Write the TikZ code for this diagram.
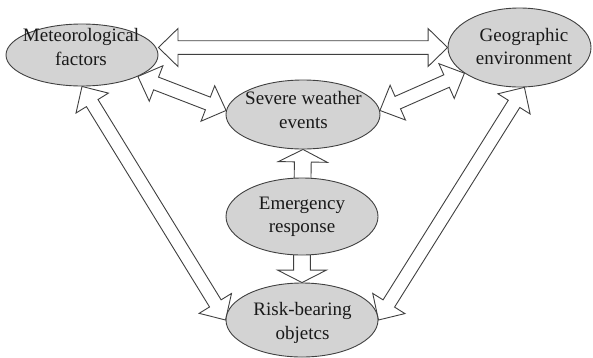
\documentclass[tikz,border=0pt]{standalone}
\usepackage{fontspec}
\setmainfont{Liberation Serif}
\usetikzlibrary{shapes.geometric,calc,backgrounds}
\definecolor{ellfill}{HTML}{D3D3D3}
\definecolor{linec}{HTML}{404040}
\tikzset{
  ell/.style={ellipse, draw=linec, fill=ellfill, line width=0.9pt, inner sep=0pt},
  lbl/.style={align=center, inner sep=0pt, font=\fontsize{19}{23.5}\selectfont, text=black!90},
  blockarrow/.style={draw=linec, fill=white, line width=0.9pt, line join=miter}
}
\newcommand\dblarrow[2]{%
  \coordinate (ba) at ($(#1)!19.5pt!(#2)$);
  \coordinate (bb) at ($(#2)!19.5pt!(#1)$);
  \draw[blockarrow] (#1) -- ($(ba)!19pt!90:(#2)$) -- ($(ba)!6.8pt!90:(#2)$)
    -- ($(bb)!6.8pt!-90:(#1)$) -- ($(bb)!19pt!-90:(#1)$) -- (#2)
    -- ($(bb)!19pt!90:(#1)$) -- ($(bb)!6.8pt!90:(#1)$)
    -- ($(ba)!6.8pt!-90:(#2)$) -- ($(ba)!19pt!-90:(#2)$) -- cycle;}
\newcommand\sglarrow[2]{%
  \coordinate (bb) at ($(#2)!12.5pt!(#1)$);
  \draw[blockarrow] ($(#1)!8.4pt!90:(#2)$) -- ($(bb)!8.4pt!-90:(#1)$)
    -- ($(bb)!24.5pt!-90:(#1)$) -- (#2) -- ($(bb)!24.5pt!90:(#1)$)
    -- ($(bb)!8.4pt!90:(#1)$) -- ($(#1)!8.4pt!-90:(#2)$) -- cycle;}
\begin{document}
\begin{tikzpicture}[x=1pt,y=-1pt]
\useasboundingbox (0,0) rectangle (593,357);
% ellipses
\node[ell, minimum width=152pt, minimum height=62pt] (met) at (82,55) {};
\node[ell, minimum width=143pt, minimum height=79pt] (geo) at (519.5,47.5) {};
\node[ell, minimum width=154pt, minimum height=69pt] (sev) at (303,114.5) {};
\node[ell, minimum width=152pt, minimum height=77pt] (emg) at (302,216.5) {};
\node[ell, minimum width=152pt, minimum height=74pt] (risk) at (302,320) {};
% labels
\node[lbl] (met-t) at (81,47) {Meteorological\\factors};
\node[lbl] (geo-t) at (524,46.5) {Geographic\\environment};
\node[lbl] (sev-t) at (303.5,110) {Severe weather\\events};
\node[lbl] (emg-t) at (302,217) {Emergency\\response};
\node[lbl] (risk-t) at (302.5,323) {Risk-bearing\\objetcs};
% arrows
\begin{scope}[on background layer]
  \coordinate (mt) at (met.east |- geo.west);
  \dblarrow{mt}{geo.west}
  \dblarrow{met.-21}{sev.177}
  \dblarrow{sev.3}{geo.205}
  \dblarrow{met.south}{risk.west}
  \dblarrow{geo.-83}{risk.east}
  \sglarrow{emg.center}{sev.south}
  \sglarrow{emg.center}{risk.north}
\end{scope}
\end{tikzpicture}
\end{document}
